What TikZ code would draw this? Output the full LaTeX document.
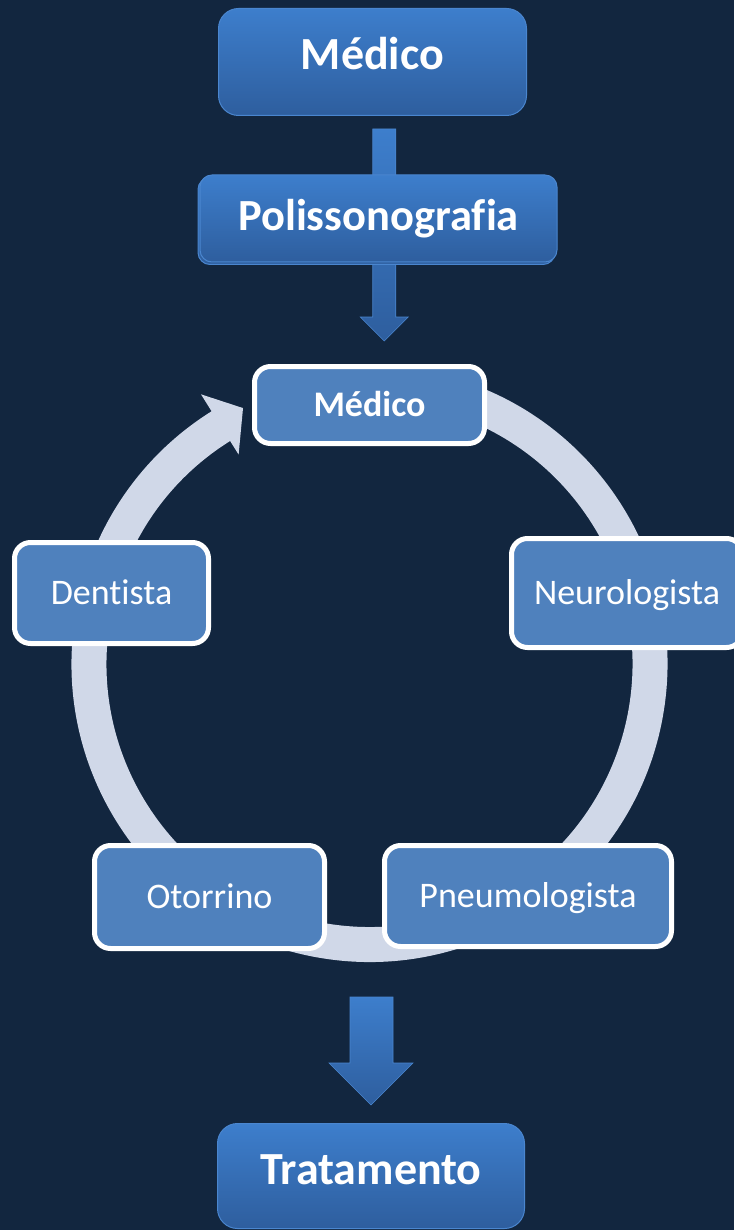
\documentclass[tikz,border=0pt]{standalone}
\usepackage{fontspec}
\setmainfont{Carlito}[Ligatures={NoCommon,NoRequired,NoContextual}]
\usetikzlibrary{calc}
\definecolor{bg}{HTML}{12263F}
\definecolor{ringc}{HTML}{D0D8E8}
\definecolor{cyc}{HTML}{4F81BD}
\definecolor{gtop}{HTML}{3D7ECC}
\definecolor{gbot}{HTML}{2E5E9E}
\definecolor{gedge}{HTML}{4A86CF}
\begin{document}
\begin{tikzpicture}[x=1pt,y=1pt,
  bigbox/.style={rectangle, rounded corners=20pt, top color=gtop, bottom color=gbot, draw=gedge, line width=1pt, text=white, font=\fontsize{46pt}{50pt}\selectfont\bfseries, inner sep=0pt, text height=30pt},
  cycbox/.style={rectangle, rounded corners=16pt, fill=cyc, draw=white, line width=5pt, text=white, font=\fontsize{36pt}{40pt}\selectfont, inner sep=0pt, text height=23pt, text depth=0pt},
  blockarrow/.style={top color=gtop, bottom color=gbot, draw=gedge, line width=0.6pt},
  cycarrow/.style={fill=ringc}
]
\fill[bg] (0,0) rectangle (734,-1230);
\useasboundingbox (0,0) rectangle (734,-1230);

% top chain
\node[bigbox, minimum width=308pt, minimum height=107pt, text depth=14pt] (medico1) at (372.5,-62) {M\'edico};
\coordinate (a1top) at (384.25,-129);
\coordinate (a1tip) at (384.25,-341);
\draw[blockarrow] ($(a1top)+(-11.5,0)$) -- ($(a1top)+(11.5,0)$) -- ($(a1tip)+(11.5,24)$) -- ($(a1tip)+(24,24)$) -- (a1tip) -- ($(a1tip)+(-24,24)$) -- ($(a1tip)+(-11.5,24)$) -- cycle;
\node[bigbox, rounded corners=12pt, minimum width=357pt, minimum height=87pt] (polback) at (376.5,-221) {};
\node[bigbox, rounded corners=12pt, minimum width=357pt, minimum height=87pt, font=\fontsize{44.5pt}{48pt}\selectfont\bfseries, text height=29pt, text depth=5pt] (polisso) at (378.5,-218.5) {Polissonografia};

% cycle
\coordinate (C) at (369.5,-664);
\fill[cycarrow] ($(C)+(80:298pt)$) arc[start angle=80, end angle=-238, radius=298pt]
  -- ($(C)+(122:318pt)$) -- ($(C)+(116.3:285.5pt)$) -- ($(C)+(122:247pt)$)
  -- ($(C)+(122:263pt)$) arc[start angle=122, end angle=440, radius=263pt] -- cycle;

\node[cycbox, minimum width=230pt, minimum height=77pt, font=\fontsize{36pt}{40pt}\selectfont\bfseries] (medico2) at (369.5,-405) {M\'edico};
\node[cycbox, minimum width=231pt, minimum height=109pt] (neuro) at (627,-593) {Neurologista};
\node[cycbox, minimum width=287pt, minimum height=101pt] (pneumo) at (528,-896) {Pneumologista};
\node[cycbox, minimum width=230pt, minimum height=103pt] (otor) at (209.5,-897) {Otorrino};
\node[cycbox, minimum width=194pt, minimum height=101pt] (dent) at (111.5,-593) {Dentista};

% bottom arrow and result
\node[bigbox, minimum width=307pt, minimum height=105pt, text depth=13pt] (trat) at (371,-1176) {Tratamento};
\coordinate (a2top) at (371.5,-997);
\coordinate (a2tip) at (371,-1105);
\draw[blockarrow] ($(a2top)+(-21.5,0)$) -- ($(a2top)+(21.5,0)$) -- ($(a2tip)+(22,42)$) -- ($(a2tip)+(42,42)$) -- (a2tip) -- ($(a2tip)+(-42,42)$) -- ($(a2tip)+(-21,42)$) -- cycle;
\end{tikzpicture}
\end{document}
